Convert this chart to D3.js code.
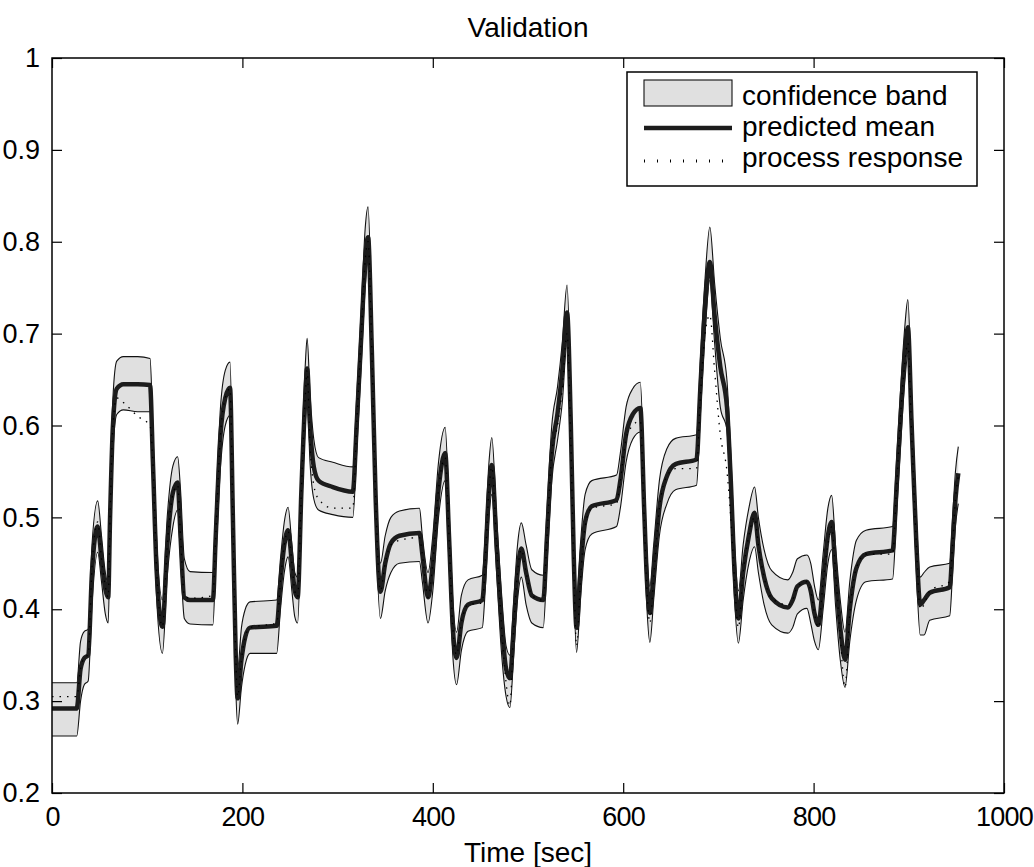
<!DOCTYPE html>
<html>
<head>
<meta charset="utf-8">
<script src="https://cdn.jsdelivr.net/npm/d3@7"></script>
<style>
body { margin: 0; background: #fff; }
text { font-family: "Liberation Sans", Arial, sans-serif; fill: #000; }
</style>
</head>
<body>
<div id="chart"></div>
<script>
// Chart size
var chart_width  = 1034;
var chart_height = 867;

// Data (time in sec, values in response units)
var timeSec = [
    0, 26, 30, 34, 38,
    42, 48, 52, 56, 59,
    61, 64, 68, 75, 90, 103,
    106, 110, 116, 121, 127, 132,
    135, 139, 145, 169,
    172, 177, 182, 187, 190, 193, 195, 199, 203, 208, 236,
    240, 244, 248, 252, 255, 258, 262, 266, 268, 271, 275, 280, 295, 316,
    320, 325, 329, 332, 336, 340, 345, 350, 356, 365, 386,
    389, 395, 400, 406, 413, 417, 421, 425, 430, 437, 452,
    455, 459, 462, 467, 472, 477, 481, 485, 489, 493, 498, 504, 516,
    520, 525, 531, 536, 541, 545, 548, 551, 555, 560, 567, 593,
    597, 603, 610, 618, 622, 625, 628, 632, 638, 646, 655, 677,
    681, 686, 691, 696, 702, 709, 713, 717, 721, 726, 732, 738, 742, 748, 756, 773,
    778, 783, 793, 797, 801, 805, 810, 815, 819, 823, 828, 833, 838, 845, 855, 883,
    887, 892, 896, 899, 903, 908, 912, 916, 922, 943, 946, 949, 952
];
var predMean = [
    .292, .292, .335, .347, .350,
    .440, .490, .455, .422, .413,
    .500, .600, .640, .645, .645, .644,
    .560, .440, .381, .468, .527, .538,
    .480, .413, .410, .410,
    .480, .590, .630, .641, .500, .350, .303, .345, .370, .380, .382,
    .430, .470, .486, .450, .420, .413, .530, .630, .662, .600, .555, .540, .533, .528,
    .600, .700, .780, .805, .680, .520, .419, .450, .472, .480, .483,
    .460, .413, .450, .530, .570, .480, .380, .347, .385, .405, .410,
    .450, .530, .557, .470, .390, .335, .325, .380, .440, .466, .440, .415, .410,
    .480, .570, .613, .660, .723, .600, .460, .380, .440, .495, .512, .519,
    .540, .590, .612, .619, .510, .430, .396, .440, .510, .545, .558, .563,
    .640, .730, .778, .720, .664, .620, .540, .440, .390, .440, .480, .505, .470, .435, .412, .402,
    .410, .425, .430, .420, .395, .383, .430, .480, .495, .440, .380, .345, .400, .445, .460, .464,
    .530, .620, .680, .707, .600, .470, .405, .410, .418, .424, .470, .520, .548
];
var bandUpper = [
    .320, .320, .365, .376, .378,
    .470, .518, .480, .440, .428,
    .530, .630, .670, .675, .675, .673,
    .595, .475, .410, .500, .556, .566,
    .530, .455, .441, .440,
    .510, .620, .660, .669, .530, .380, .335, .380, .400, .408, .410,
    .455, .495, .511, .470, .440, .435, .560, .665, .695, .635, .585, .565, .560, .555,
    .630, .730, .815, .838, .710, .550, .450, .480, .500, .507, .510,
    .480, .440, .480, .560, .598, .510, .410, .375, .415, .432, .437,
    .480, .560, .587, .500, .420, .360, .350, .410, .470, .494, .470, .443, .437,
    .510, .600, .642, .690, .753, .630, .490, .410, .470, .525, .540, .546,
    .570, .620, .640, .647, .540, .460, .425, .470, .540, .575, .586, .590,
    .670, .760, .816, .755, .695, .649, .570, .470, .420, .470, .510, .533, .500, .465, .442, .432,
    .440, .455, .459, .450, .425, .410, .460, .510, .524, .470, .410, .375, .430, .475, .486, .490,
    .560, .650, .710, .737, .630, .500, .435, .440, .446, .450, .500, .550, .577
];
var bandLower = [
    .262, .262, .300, .318, .322,
    .405, .462, .430, .395, .385,
    .470, .570, .612, .617, .615, .615,
    .530, .410, .352, .435, .490, .508,
    .455, .390, .384, .383,
    .450, .555, .600, .611, .470, .315, .275, .315, .340, .352, .352,
    .400, .440, .457, .420, .392, .385, .500, .600, .630, .560, .520, .508, .503, .500,
    .570, .670, .750, .778, .650, .490, .390, .420, .440, .450, .452,
    .430, .385, .420, .500, .540, .450, .350, .318, .355, .376, .380,
    .420, .500, .525, .440, .355, .305, .293, .350, .410, .435, .405, .385, .380,
    .450, .540, .584, .625, .690, .570, .430, .353, .410, .465, .482, .490,
    .510, .560, .585, .593, .480, .400, .364, .410, .480, .515, .530, .535,
    .610, .700, .758, .690, .620, .595, .510, .410, .363, .410, .450, .468, .440, .405, .383, .374,
    .380, .395, .401, .385, .365, .356, .400, .450, .465, .405, .345, .315, .365, .410, .430, .433,
    .500, .590, .650, .677, .570, .440, .372, .372, .388, .393, .440, .490, .515
];
var procResp = [
    .305, .305, .335, .348, .350,
    .445, .495, .455, .425, .413,
    .500, .600, .630, .625, .610, .600,
    .560, .440, .381, .468, .525, .535,
    .480, .415, .412, .415,
    .480, .590, .630, .640, .500, .350, .305, .345, .370, .380, .385,
    .430, .470, .485, .450, .420, .413, .530, .630, .660, .580, .535, .520, .510, .510,
    .600, .700, .780, .800, .680, .520, .420, .450, .470, .475, .478,
    .460, .413, .450, .530, .565, .480, .380, .350, .385, .405, .407,
    .450, .530, .555, .470, .385, .320, .295, .380, .440, .465, .440, .415, .410,
    .480, .570, .600, .640, .700, .580, .450, .360, .430, .490, .510, .515,
    .540, .585, .600, .605, .500, .420, .385, .435, .510, .545, .553, .553,
    .630, .700, .720, .660, .590, .550, .500, .430, .380, .440, .480, .500, .470, .435, .412, .405,
    .410, .425, .430, .420, .395, .380, .430, .470, .490, .440, .370, .315, .395, .445, .460, .460,
    .530, .620, .670, .690, .590, .470, .400, .405, .420, .430, .470, .520, .545
];

var xTicks = [0, 200, 400, 600, 800, 1000];
var yTicks = [0.2, 0.3, 0.4, 0.5, 0.6, 0.7, 0.8, 0.9, 1];
var legendLabels = ['confidence band', 'predicted mean', 'process response'];

var rows = timeSec.map(function(t, i){
    return {t: t, m: predMean[i], hi: bandUpper[i], lo: bandLower[i], p: procResp[i]};
});

// Plot box
var plotL = 52, plotR = 1004, plotT = 58, plotB = 793;

var x = d3.scaleLinear().domain([0, 1000]).range([plotL, plotR]);
var y = d3.scaleLinear().domain([0.2, 1]).range([plotB, plotT]);

var svg = d3.select('#chart')
    .append('svg')
    .attr('width', chart_width)
    .attr('height', chart_height);

svg.append('defs').append('clipPath')
    .attr('id', 'plotclip')
    .append('rect')
    .attr('x', plotL).attr('y', plotT)
    .attr('width', plotR - plotL).attr('height', plotB - plotT);

var plot = svg.append('g').attr('clip-path', 'url(#plotclip)');

var area = d3.area()
    .x(function(d){ return x(d.t); })
    .y0(function(d){ return y(d.lo); })
    .y1(function(d){ return y(d.hi); })
    .curve(d3.curveMonotoneX);

function lineOf(key){
    return d3.line()
        .x(function(d){ return x(d.t); })
        .y(function(d){ return y(d[key]); })
        .curve(d3.curveMonotoneX);
}

plot.append('path')
    .attr('d', area(rows))
    .attr('fill', '#e0e0e0')
    .attr('stroke', 'none');

['hi', 'lo'].forEach(function(k){
    plot.append('path')
        .attr('d', lineOf(k)(rows))
        .attr('fill', 'none')
        .attr('stroke', '#111')
        .attr('stroke-width', 1.1);
});

plot.append('path')
    .attr('d', lineOf('m')(rows))
    .attr('fill', 'none')
    .attr('stroke', '#1c1c1c')
    .attr('stroke-width', 4.5)
    .attr('stroke-linejoin', 'round');

plot.append('path')
    .attr('d', lineOf('p')(rows))
    .attr('fill', 'none')
    .attr('stroke', '#000')
    .attr('stroke-width', 1.3)
    .attr('stroke-dasharray', '1.5,6');

// Axes, MATLAB style: ticks inside on all four sides
var fmtY = function(d){ return d === 1 ? '1' : d.toFixed(1); };
var fmtX = d3.format('d');

var gx = svg.append('g')
    .attr('transform', 'translate(0,' + plotB + ')')
    .call(d3.axisBottom(x).tickValues(xTicks).tickFormat(fmtX).tickSizeInner(-10).tickSizeOuter(0).tickPadding(14));
var gy = svg.append('g')
    .attr('transform', 'translate(' + plotL + ',0)')
    .call(d3.axisLeft(y).tickValues(yTicks).tickFormat(fmtY).tickSizeInner(-10).tickSizeOuter(0).tickPadding(12));
var gxt = svg.append('g')
    .attr('transform', 'translate(0,' + plotT + ')')
    .call(d3.axisTop(x).tickValues(xTicks).tickFormat('').tickSizeInner(-10).tickSizeOuter(0));
var gyr = svg.append('g')
    .attr('transform', 'translate(' + plotR + ',0)')
    .call(d3.axisRight(y).tickValues(yTicks).tickFormat('').tickSizeInner(-10).tickSizeOuter(0));

[gx, gy, gxt, gyr].forEach(function(g){
    g.select('.domain').remove();
    g.selectAll('line').attr('stroke', '#000').attr('stroke-width', 1.2);
    g.selectAll('text')
        .style('font-family', '"Liberation Sans", Arial, sans-serif')
        .style('font-size', '27px')
        .attr('fill', '#000');
});
// tighter digits on the x axis so "1000" fits inside the window, as in the reference
gx.selectAll('text').style('letter-spacing', '-0.8px');

svg.append('rect')
    .attr('x', plotL).attr('y', plotT)
    .attr('width', plotR - plotL).attr('height', plotB - plotT)
    .attr('fill', 'none')
    .attr('stroke', '#000')
    .attr('stroke-width', 1.5);

// Title and axis label
svg.append('text')
    .attr('x', (plotL + plotR) / 2).attr('y', 37)
    .attr('text-anchor', 'middle')
    .style('font-size', '28px')
    .text('Validation');

svg.append('text')
    .attr('x', (plotL + plotR) / 2).attr('y', 862)
    .attr('text-anchor', 'middle')
    .style('font-size', '28px')
    .text('Time [sec]');

// Legend
var lg = svg.append('g');
lg.append('rect')
    .attr('x', 627).attr('y', 72)
    .attr('width', 350).attr('height', 114)
    .attr('fill', '#fff')
    .attr('stroke', '#000')
    .attr('stroke-width', 1.5);

lg.append('rect')
    .attr('x', 644).attr('y', 80)
    .attr('width', 88).attr('height', 26)
    .attr('fill', '#e0e0e0')
    .attr('stroke', '#111')
    .attr('stroke-width', 1.1);

lg.append('line')
    .attr('x1', 644).attr('x2', 732)
    .attr('y1', 128).attr('y2', 128)
    .attr('stroke', '#1c1c1c')
    .attr('stroke-width', 4.5);

lg.append('line')
    .attr('x1', 644).attr('x2', 732)
    .attr('y1', 161).attr('y2', 161)
    .attr('stroke', '#000')
    .attr('stroke-width', 3)
    .attr('stroke-dasharray', '1,12');

lg.selectAll('text.lab')
    .data(legendLabels)
    .enter()
    .append('text')
    .attr('class', 'lab')
    .attr('x', 742)
    .attr('y', function(d, i){ return 105 + i * 31; })
    .style('font-size', '28px')
    .text(function(d){ return d; });
</script>
</body>
</html>
